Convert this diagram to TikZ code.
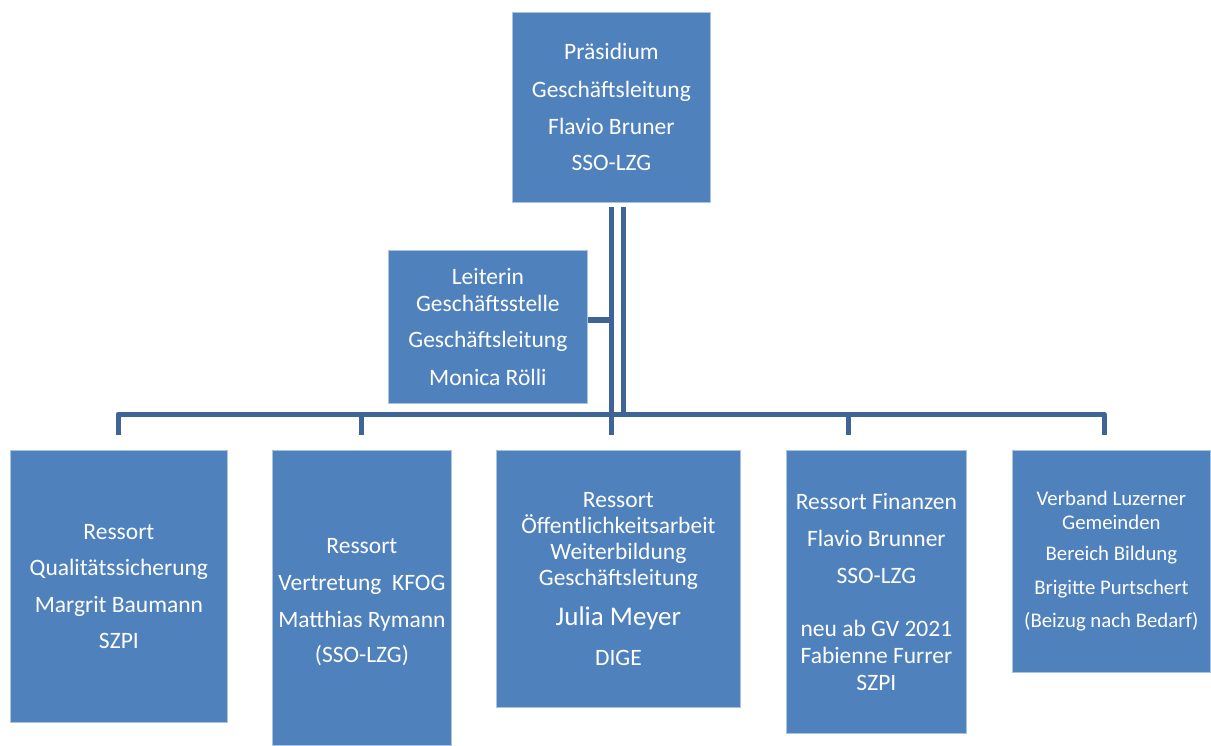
\documentclass[tikz,border=0pt]{standalone}
\usepackage{fontspec}
\setmainfont{Carlito}
\definecolor{boxblue}{RGB}{79,129,189}
\definecolor{boxedge}{RGB}{170,195,225}
\definecolor{linkblue}{RGB}{62,101,150}
\begin{document}
\begin{tikzpicture}[x=1pt,y=-1pt,
  orgbox/.style={rectangle, fill=boxblue, draw=boxedge, line width=0.8pt, text=white,
    align=center, anchor=north west, inner sep=0pt, font=\fontsize{23.5}{26}\selectfont},
  smallbox/.style={orgbox, font=\fontsize{20.8}{24}\selectfont},
  link/.style={draw=linkblue, line width=5pt, line join=round}]
\useasboundingbox (0,0) rectangle (1211,746);

\node[orgbox, minimum width=198pt, minimum height=190pt] (praes) at (512,12)
  {Präsidium\\[12pt]Geschäftsleitung\\[11pt]Flavio Bruner\\[10pt]SSO-LZG};
\node[orgbox, minimum width=199pt, minimum height=153pt] (leit) at (388,250)
  {Leiterin\\[1pt]Geschäftsstelle\\[10pt]Geschäftsleitung\\[12pt]Monica Rölli};
\node[orgbox, minimum width=217pt, minimum height=272pt] (c1) at (10,450)
  {Ressort\\[10pt]Qualitätssicherung\\[11pt]Margrit Baumann\\[10pt]SZPI};
\node[orgbox, minimum width=179pt, minimum height=295pt] (c2) at (272,450)
  {\rule{0pt}{23pt}Ressort\\[11pt]Vertretung\ \ KFOG\\[11pt]Matthias Rymann\\[9pt](SSO-LZG)};
\node[orgbox, minimum width=244pt, minimum height=257pt] (c3) at (496,450)
  {Ressort\\Öffentlichkeitsarbeit\\Weiterbildung\\Geschäftsleitung\\[14pt]{\fontsize{27}{30}\selectfont Julia Meyer}\\[14pt]DIGE};
\node[orgbox, minimum width=180pt, minimum height=283pt] (c4) at (786,450)
  {Ressort Finanzen\\[11pt]Flavio Brunner\\[11pt]SSO-LZG\\[27pt]neu ab GV 2021\\[1pt]Fabienne Furrer\\[1pt]SZPI};
\node[smallbox, minimum width=198pt, minimum height=222pt] (c5) at (1012,450)
  {Verband Luzerner\\Gemeinden\\[7pt]Bereich Bildung\\[10pt]Brigitte Purtschert\\[9pt](Beizug nach Bedarf)};

% connector coordinates
\coordinate (tA) at (611.5,207);
\coordinate (tB) at (623,207);
\coordinate (jL) at (611.5,320);
\coordinate (barY) at (0,414);
\coordinate (k1) at (118,435);
\coordinate (k2) at (361.5,435);
\coordinate (k3) at (611.5,435);
\coordinate (k4) at (848.5,435);
\coordinate (k5) at (1104,435);

\draw[link] (tA) -- (k3);
\draw[link] (tB) -- (tB |- barY);
\draw[link] (leit.east |- jL) -- (jL);
\draw[link] (k1) -- (k1 |- barY) -- (k5 |- barY) -- (k5);
\draw[link] (k2 |- barY) -- (k2);
\draw[link] (k4 |- barY) -- (k4);
\end{tikzpicture}
\end{document}
